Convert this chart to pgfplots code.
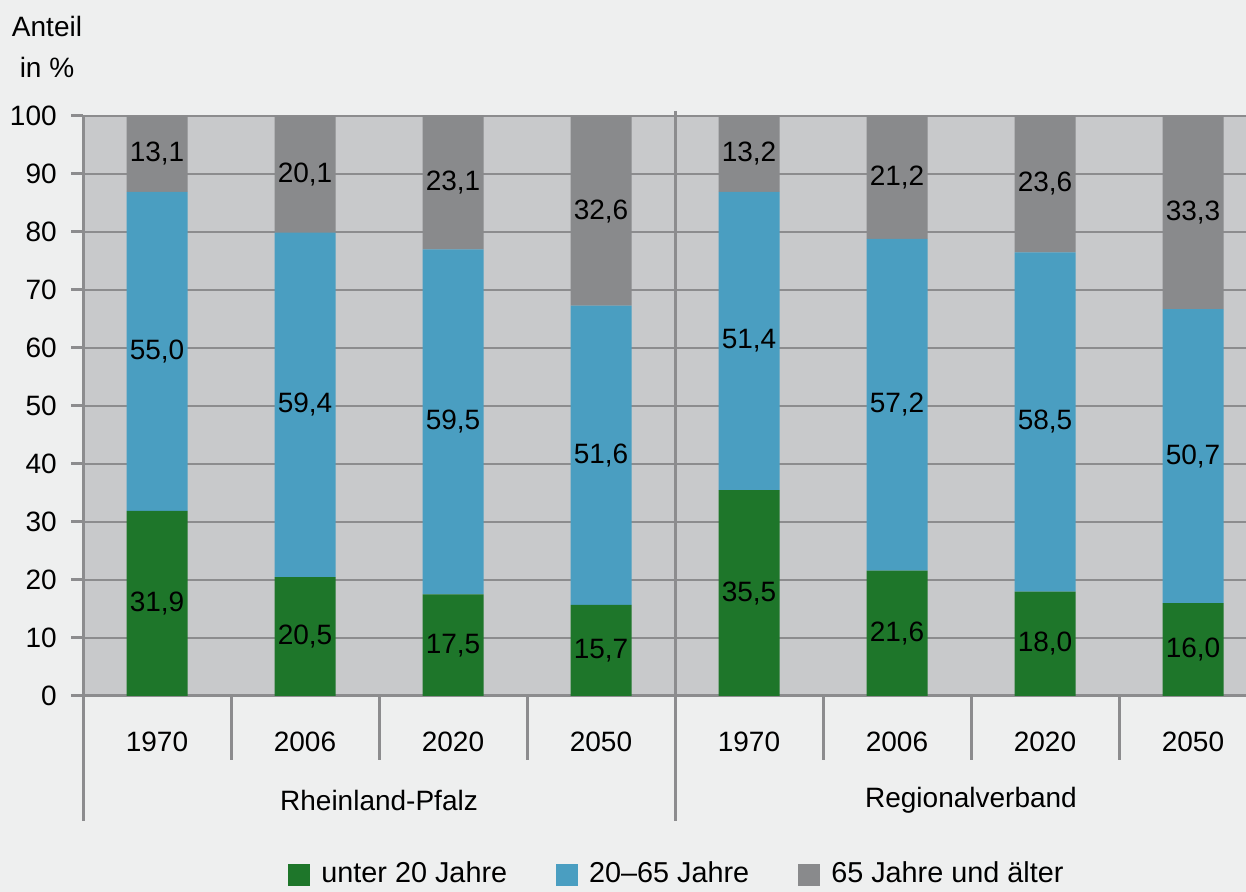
\documentclass[border=0pt]{standalone}
\usepackage{fontspec}
\setmainfont{Liberation Sans}
\usepackage{pgfplots}
\pgfplotsset{compat=1.18}
\definecolor{bg}{HTML}{EEEFEF}
\definecolor{plotbg}{HTML}{C8C9CB}
\definecolor{axgray}{HTML}{8C8C8E}
\definecolor{cgreen}{HTML}{1E762A}
\definecolor{cblue}{HTML}{4A9EC1}
\definecolor{cgray}{HTML}{898A8C}
\pgfplotsset{sqlegend/.style={legend image code/.code={\draw[##1,draw=none] (0pt,-5.5pt) rectangle (11pt,5.5pt);}}}
\begin{document}
\fontsize{14}{17}\selectfont
\begin{tikzpicture}
\fill[bg] (-41.5pt,-98pt) rectangle (581.5pt,348pt);
\begin{axis}[
  at={(0pt,0pt)}, anchor=south west,
  scale only axis, width=592pt, height=290pt,
  xmin=-0.5, xmax=7.5, ymin=0, ymax=100,
  ybar stacked, bar width=30.5pt,
  clip=false,
  axis background/.style={fill=plotbg},
  axis x line*=bottom, axis y line*=left,
  axis line style={draw=axgray, line width=1.5pt},
  ytick={0,10,...,100},
  ymajorgrids, grid style={draw=axgray, line width=1pt},
  tick align=outside, major tick length=6pt,
  ytick style={draw=axgray, line width=1.5pt},
  xtick=data, xticklabels={1970,2006,2020,2050,1970,2006,2020,2050},
  xtick style={draw=none},
  xticklabel style={anchor=center, yshift=-17pt},
  yticklabel style={xshift=-2.3pt, /pgf/number format/assume math mode=true},
  ylabel={Anteil\\in \%},
  every axis y label/.style={at={(axis cs:-0.5,100)}, anchor=center, xshift=-18pt, yshift=34.5pt, align=center, font=\fontsize{14}{20.5}\selectfont},
  nodes near coords={\pgfmathprintnumber[fixed,fixed zerofill,precision=1,use comma,assume math mode=true]{\rawy}},
  visualization depends on=rawy \as \rawy,
  nodes near coords align=center,
  every node near coord/.append style={anchor=center, text=black},
  legend columns=3,
  legend style={at={(0.5025,-0.308)}, anchor=center, draw=none, fill=none,
    font=\fontsize{14.4}{17}\selectfont,
    /tikz/every odd column/.append style={column sep=3.5pt},
    /tikz/every even column/.append style={column sep=22.5pt}},
  legend cell align=left,
]
\addplot[fill=cgreen, draw=none, sqlegend] coordinates {(0,31.9) (1,20.5) (2,17.5) (3,15.7) (4,35.5) (5,21.6) (6,18.0) (7,16.0)};
\addlegendentry{unter 20 Jahre}
\addplot[fill=cblue, draw=none, sqlegend] coordinates {(0,55.0) (1,59.4) (2,59.5) (3,51.6) (4,51.4) (5,57.2) (6,58.5) (7,50.7)};
\addlegendentry{20–65 Jahre}
\addplot[fill=cgray, draw=none, sqlegend] coordinates {(0,13.1) (1,20.1) (2,23.1) (3,32.6) (4,13.2) (5,21.2) (6,23.6) (7,33.3)};
\addlegendentry{65 Jahre und älter}
\draw[axgray, line width=1.5pt] (axis cs:0.5,0) -- ([yshift=-32pt]axis cs:0.5,0);
\draw[axgray, line width=1.5pt] (axis cs:1.5,0) -- ([yshift=-32pt]axis cs:1.5,0);
\draw[axgray, line width=1.5pt] (axis cs:2.5,0) -- ([yshift=-32pt]axis cs:2.5,0);
\draw[axgray, line width=1.5pt] (axis cs:4.5,0) -- ([yshift=-32pt]axis cs:4.5,0);
\draw[axgray, line width=1.5pt] (axis cs:5.5,0) -- ([yshift=-32pt]axis cs:5.5,0);
\draw[axgray, line width=1.5pt] (axis cs:6.5,0) -- ([yshift=-32pt]axis cs:6.5,0);
\draw[axgray, line width=1.5pt] (axis cs:-0.5,0) -- ([yshift=-62.5pt]axis cs:-0.5,0);
\draw[axgray, line width=1.5pt] ([yshift=2.5pt]axis cs:3.5,100) -- ([yshift=-62.5pt]axis cs:3.5,0);
\node at (axis cs:1.5,0) [yshift=-52pt] {Rheinland-Pfalz};
\node at (axis cs:5.5,0) [yshift=-52pt] {Regionalverband};
\end{axis}
\pgfresetboundingbox
\path[use as bounding box] (-41.5pt,-98pt) rectangle (581.5pt,348pt);
\end{tikzpicture}
\end{document}
